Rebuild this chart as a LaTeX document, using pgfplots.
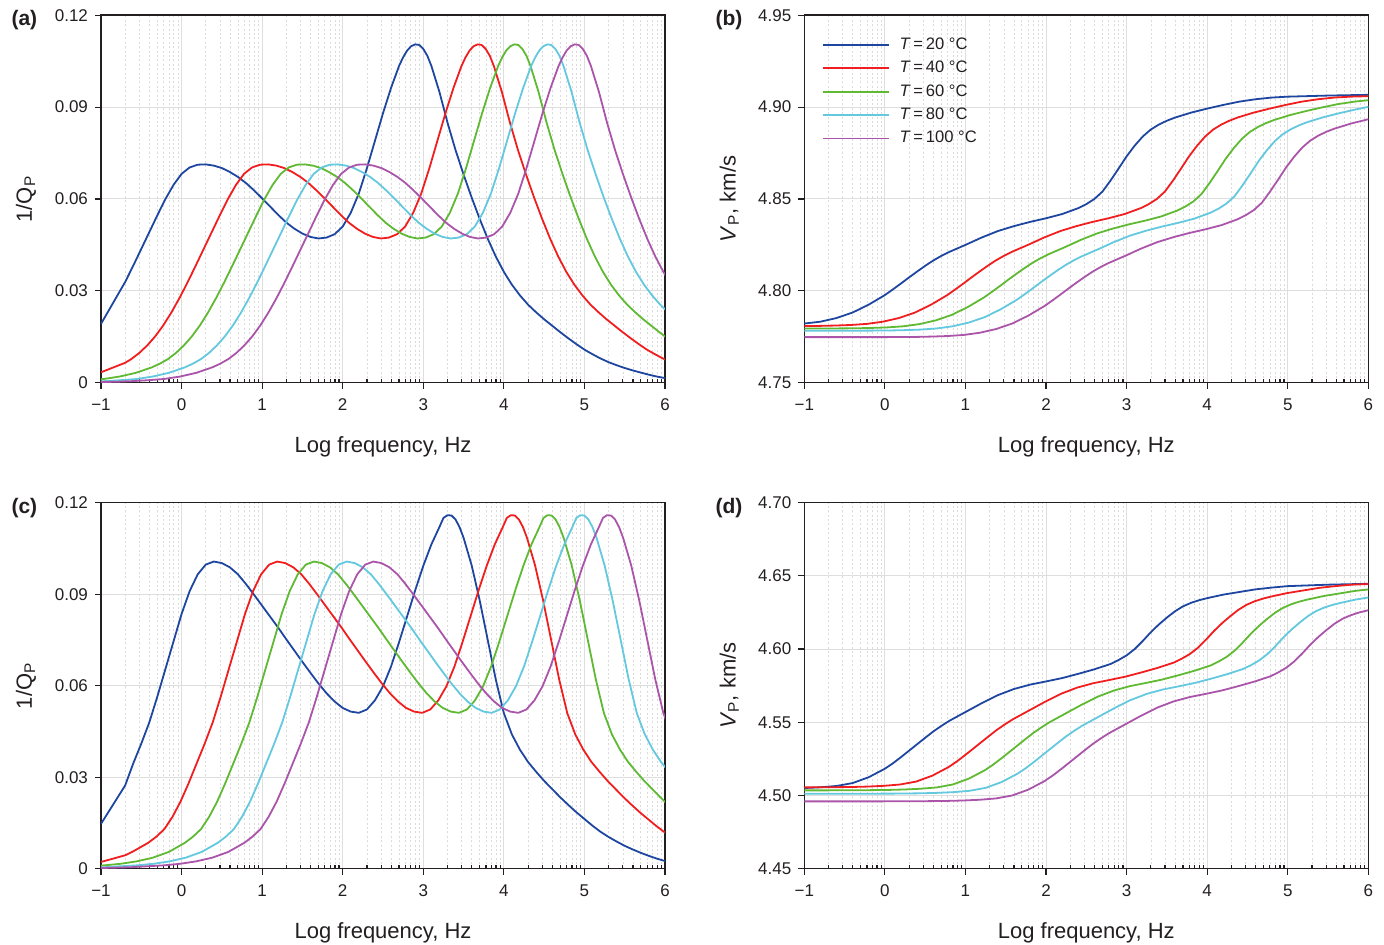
\documentclass[border=0pt]{standalone}
\usepackage{fontspec}
\setmainfont{Liberation Sans}
\usepackage{pgfplots}
\pgfplotsset{compat=1.18}
\definecolor{cB}{RGB}{30,70,160}
\definecolor{cR}{RGB}{240,30,30}
\definecolor{cG}{RGB}{95,185,50}
\definecolor{cC}{RGB}{100,200,222}
\definecolor{cP}{RGB}{170,85,170}
\definecolor{axc}{RGB}{35,31,32}
\pgfplotsset{
  panel/.style={
    scale only axis, width=282pt, anchor=south west,
    xmin=-1, xmax=6,
    xtick={-1,0,1,2,3,4,5,6}, xticklabels={−1,0,1,2,3,4,5,6},
    minor xtick={-0.69897,-0.52288,-0.39794,-0.30103,-0.22185,-0.15490,-0.09691,-0.04576,
      0.30103,0.47712,0.60206,0.69897,0.77815,0.84510,0.90309,0.95424,
      1.30103,1.47712,1.60206,1.69897,1.77815,1.84510,1.90309,1.95424,
      2.30103,2.47712,2.60206,2.69897,2.77815,2.84510,2.90309,2.95424,
      3.30103,3.47712,3.60206,3.69897,3.77815,3.84510,3.90309,3.95424,
      4.30103,4.47712,4.60206,4.69897,4.77815,4.84510,4.90309,4.95424,
      5.30103,5.47712,5.60206,5.69897,5.77815,5.84510,5.90309,5.95424},
    xmajorgrids, ymajorgrids, xminorgrids,
    major grid style={draw=black!13, line width=0.5pt},
    minor grid style={draw=black!14, line width=0.35pt, dash pattern=on 1pt off 1.2pt},
    axis line style={axc, line width=0.8pt},
    tick style={axc, line width=0.6pt},
    tick align=outside, tick pos=left,
    major tick length=3pt, minor tick length=1.6pt,
    minor tick style={yshift=1.6pt},
    ticklabel style={font=\fontsize{8.5}{10}\selectfont, text=axc},
    xticklabel style={yshift=-1.5pt},
    label style={font=\fontsize{11}{13}\selectfont, text=axc},
    xlabel={Log frequency, Hz},
    xlabel style={at={(axis description cs:0.5,-0.174)}, anchor=center},
    ylabel style={at={(axis description cs:-0.133,0.5)}, anchor=center},
    every axis plot/.append style={line width=0.9pt, line join=round},
  },
  qpan/.style={panel, ymin=0, ymax=0.12, ytick={0,0.03,0.06,0.09,0.12},
    yticklabels={0,0.03,0.06,0.09,0.12}, ylabel={1/Q\textsubscript{P}}},
}
\begin{document}
\begin{tikzpicture}
\useasboundingbox (0,0) rectangle (692pt,472.5pt);
% ---------------- (a)
\begin{axis}[qpan, name=A, at={(50.5pt,281.15pt)}, height=183.7pt]
\addplot[cB] coordinates {(-1,0.0192)(-0.7,0.0329)(-0.6,0.0382)(-0.5,0.0437)(-0.4,0.0492)(-0.3,0.0547)(-0.2,0.0600)(-0.1,0.0646)(0,0.0682)(0.1,0.0703)(0.2,0.0712)(0.3,0.0713)(0.4,0.0709)(0.5,0.0701)(0.6,0.0688)(0.7,0.0672)(0.8,0.0652)(0.9,0.0628)(1,0.0602)(1.1,0.0575)(1.2,0.0548)(1.3,0.0523)(1.4,0.0503)(1.5,0.0487)(1.6,0.0476)(1.7,0.0471)(1.8,0.0474)(1.9,0.0485)(2,0.0510)(2.1,0.0555)(2.2,0.0618)(2.3,0.0700)(2.4,0.0790)(2.5,0.0880)(2.6,0.0963)(2.7,0.1035)(2.75,0.1063)(2.8,0.1085)(2.85,0.1099)(2.9,0.1105)(2.95,0.1103)(3,0.1090)(3.05,0.1068)(3.1,0.1035)(3.2,0.0950)(3.3,0.0850)(3.4,0.0760)(3.5,0.0680)(3.6,0.0605)(3.7,0.0535)(3.8,0.0470)(3.9,0.0412)(4,0.0362)(4.1,0.0320)(4.2,0.0285)(4.3,0.0255)(4.4,0.0230)(4.5,0.0207)(4.6,0.0186)(4.7,0.0165)(4.8,0.0145)(4.9,0.0126)(5,0.0108)(5.1,0.0093)(5.2,0.0079)(5.3,0.0067)(5.4,0.0057)(5.5,0.0048)(5.6,0.0040)(5.7,0.0033)(5.8,0.0026)(5.9,0.0020)(6,0.0015)};
\addplot[cR] coordinates {(-1,0.0034)(-0.7,0.0065)(-0.625,0.0077)(-0.525,0.0097)(-0.425,0.0122)(-0.325,0.0152)(-0.225,0.0188)(-0.125,0.0230)(-0.025,0.0277)(0.075,0.0328)(0.175,0.0382)(0.275,0.0437)(0.375,0.0492)(0.475,0.0547)(0.575,0.0600)(0.675,0.0646)(0.775,0.0682)(0.875,0.0703)(0.975,0.0712)(1.075,0.0713)(1.175,0.0709)(1.275,0.0701)(1.375,0.0688)(1.475,0.0672)(1.575,0.0652)(1.675,0.0628)(1.775,0.0602)(1.875,0.0575)(1.975,0.0548)(2.075,0.0523)(2.175,0.0503)(2.275,0.0487)(2.375,0.0476)(2.475,0.0471)(2.575,0.0474)(2.675,0.0485)(2.775,0.0510)(2.875,0.0555)(2.975,0.0618)(3.075,0.0700)(3.175,0.0790)(3.275,0.0880)(3.375,0.0963)(3.475,0.1035)(3.525,0.1063)(3.575,0.1085)(3.625,0.1099)(3.675,0.1105)(3.725,0.1103)(3.775,0.1090)(3.825,0.1068)(3.875,0.1035)(3.975,0.0950)(4.075,0.0850)(4.175,0.0760)(4.275,0.0680)(4.375,0.0605)(4.475,0.0535)(4.575,0.0470)(4.675,0.0412)(4.775,0.0362)(4.875,0.0320)(4.975,0.0285)(5.075,0.0255)(5.175,0.0230)(5.275,0.0207)(5.375,0.0186)(5.475,0.0165)(5.575,0.0145)(5.675,0.0126)(5.775,0.0108)(5.875,0.0093)(5.975,0.0079)(6.075,0.0067)};
\addplot[cG] coordinates {(-1.17,0.0008)(-0.97,0.0012)(-0.77,0.0020)(-0.57,0.0032)(-0.37,0.0050)(-0.27,0.0062)(-0.17,0.0077)(-0.07,0.0097)(0.03,0.0122)(0.13,0.0152)(0.23,0.0188)(0.33,0.0230)(0.43,0.0277)(0.53,0.0328)(0.63,0.0382)(0.73,0.0437)(0.83,0.0492)(0.93,0.0547)(1.03,0.0600)(1.13,0.0646)(1.23,0.0682)(1.33,0.0703)(1.43,0.0712)(1.53,0.0713)(1.63,0.0709)(1.73,0.0701)(1.83,0.0688)(1.93,0.0672)(2.03,0.0652)(2.13,0.0628)(2.23,0.0602)(2.33,0.0575)(2.43,0.0548)(2.53,0.0523)(2.63,0.0503)(2.73,0.0487)(2.83,0.0476)(2.93,0.0471)(3.03,0.0474)(3.13,0.0485)(3.23,0.0510)(3.33,0.0555)(3.43,0.0618)(3.53,0.0700)(3.63,0.0790)(3.73,0.0880)(3.83,0.0963)(3.93,0.1035)(3.98,0.1063)(4.03,0.1085)(4.08,0.1099)(4.13,0.1105)(4.18,0.1103)(4.23,0.1090)(4.28,0.1068)(4.33,0.1035)(4.43,0.0950)(4.53,0.0850)(4.63,0.0760)(4.73,0.0680)(4.83,0.0605)(4.93,0.0535)(5.03,0.0470)(5.13,0.0412)(5.23,0.0362)(5.33,0.0320)(5.43,0.0285)(5.53,0.0255)(5.63,0.0230)(5.73,0.0207)(5.83,0.0186)(5.93,0.0165)(6.03,0.0145)};
\addplot[cC] coordinates {(-1.16,0.0003)(-0.96,0.0005)(-0.76,0.0008)(-0.56,0.0012)(-0.36,0.0020)(-0.16,0.0032)(0.04,0.0050)(0.14,0.0062)(0.24,0.0077)(0.34,0.0097)(0.44,0.0122)(0.54,0.0152)(0.64,0.0188)(0.74,0.0230)(0.84,0.0277)(0.94,0.0328)(1.04,0.0382)(1.14,0.0437)(1.24,0.0492)(1.34,0.0547)(1.44,0.0600)(1.54,0.0646)(1.64,0.0682)(1.74,0.0703)(1.84,0.0712)(1.94,0.0713)(2.04,0.0709)(2.14,0.0701)(2.24,0.0688)(2.34,0.0672)(2.44,0.0652)(2.54,0.0628)(2.64,0.0602)(2.74,0.0575)(2.84,0.0548)(2.94,0.0523)(3.04,0.0503)(3.14,0.0487)(3.24,0.0476)(3.34,0.0471)(3.44,0.0474)(3.54,0.0485)(3.64,0.0510)(3.74,0.0555)(3.84,0.0618)(3.94,0.0700)(4.04,0.0790)(4.14,0.0880)(4.24,0.0963)(4.34,0.1035)(4.39,0.1063)(4.44,0.1085)(4.49,0.1099)(4.54,0.1105)(4.59,0.1103)(4.64,0.1090)(4.69,0.1068)(4.74,0.1035)(4.84,0.0950)(4.94,0.0850)(5.04,0.0760)(5.14,0.0680)(5.24,0.0605)(5.34,0.0535)(5.44,0.0470)(5.54,0.0412)(5.64,0.0362)(5.74,0.0320)(5.84,0.0285)(5.94,0.0255)(6.04,0.0230)};
\addplot[cP] coordinates {(-1.02,0.0002)(-0.82,0.0003)(-0.62,0.0005)(-0.42,0.0008)(-0.22,0.0012)(-0.02,0.0020)(0.18,0.0032)(0.38,0.0050)(0.48,0.0062)(0.58,0.0077)(0.68,0.0097)(0.78,0.0122)(0.88,0.0152)(0.98,0.0188)(1.08,0.0230)(1.18,0.0277)(1.28,0.0328)(1.38,0.0382)(1.48,0.0437)(1.58,0.0492)(1.68,0.0547)(1.78,0.0600)(1.88,0.0646)(1.98,0.0682)(2.08,0.0703)(2.18,0.0712)(2.28,0.0713)(2.38,0.0709)(2.48,0.0701)(2.58,0.0688)(2.68,0.0672)(2.78,0.0652)(2.88,0.0628)(2.98,0.0602)(3.08,0.0575)(3.18,0.0548)(3.28,0.0523)(3.38,0.0503)(3.48,0.0487)(3.58,0.0476)(3.68,0.0471)(3.78,0.0474)(3.88,0.0485)(3.98,0.0510)(4.08,0.0555)(4.18,0.0618)(4.28,0.0700)(4.38,0.0790)(4.48,0.0880)(4.58,0.0963)(4.68,0.1035)(4.73,0.1063)(4.78,0.1085)(4.83,0.1099)(4.88,0.1105)(4.93,0.1103)(4.98,0.1090)(5.03,0.1068)(5.08,0.1035)(5.18,0.0950)(5.28,0.0850)(5.38,0.0760)(5.48,0.0680)(5.58,0.0605)(5.68,0.0535)(5.78,0.0470)(5.88,0.0412)(5.98,0.0362)(6.08,0.0320)};
\end{axis}
% ---------------- (b)
\begin{axis}[panel, name=B, at={(402.15pt,281.15pt)}, height=183.7pt,
  ymin=4.75, ymax=4.95, ytick={4.75,4.80,4.85,4.90,4.95},
  yticklabels={4.75,4.80,4.85,4.90,4.95},
  ylabel={\textit{V}\textsubscript{P}, km/s},
  legend style={at={(axis description cs:0,1)}, anchor=north west, xshift=8.5pt, yshift=-9.5pt,
    draw=none, fill=none, inner sep=0pt, row sep=1.4pt,
    font=\fontsize{8.3}{9.8}\selectfont, text=axc,
    nodes={inner sep=1.5pt},
    /tikz/every odd column/.append style={column sep=3.5pt}},
  legend cell align=left,
  legend image code/.code={\draw[#1] (0pt,0pt) -- (33pt,0pt);},
]
\addplot[cB] coordinates {(-1,4.7822)(-0.8,4.7832)(-0.6,4.7852)(-0.4,4.7882)(-0.2,4.7925)(0,4.7977)(0.1,4.8008)(0.2,4.8040)(0.3,4.8073)(0.4,4.8105)(0.5,4.8136)(0.6,4.8165)(0.7,4.8190)(0.8,4.8212)(1,4.8250)(1.2,4.8290)(1.4,4.8325)(1.6,4.8352)(1.8,4.8375)(2,4.8395)(2.2,4.8418)(2.4,4.8450)(2.5,4.8472)(2.6,4.8500)(2.7,4.8540)(2.8,4.8600)(2.9,4.8665)(3,4.8732)(3.1,4.8790)(3.2,4.8840)(3.3,4.8878)(3.4,4.8905)(3.5,4.8926)(3.6,4.8943)(3.8,4.8970)(4,4.8992)(4.2,4.9012)(4.4,4.9030)(4.6,4.9043)(4.8,4.9052)(5,4.9057)(5.5,4.9063)(6,4.9067)};
\addlegendentry{\textit{T}\,=\,20 °C}
\addplot[cR] coordinates {(-1.225,4.7808)(-0.825,4.7809)(-0.625,4.7811)(-0.425,4.7814)(-0.225,4.7820)(-0.025,4.7832)(0.175,4.7852)(0.375,4.7882)(0.575,4.7925)(0.775,4.7977)(0.875,4.8008)(0.975,4.8040)(1.075,4.8073)(1.175,4.8105)(1.275,4.8136)(1.375,4.8165)(1.475,4.8190)(1.575,4.8212)(1.775,4.8250)(1.975,4.8290)(2.175,4.8325)(2.375,4.8352)(2.575,4.8375)(2.775,4.8395)(2.975,4.8418)(3.175,4.8450)(3.275,4.8472)(3.375,4.8500)(3.475,4.8540)(3.575,4.8600)(3.675,4.8665)(3.775,4.8732)(3.875,4.8790)(3.975,4.8840)(4.075,4.8878)(4.175,4.8905)(4.275,4.8926)(4.375,4.8943)(4.575,4.8970)(4.775,4.8992)(4.975,4.9012)(5.175,4.9030)(5.375,4.9043)(5.575,4.9052)(5.775,4.9057)(6.275,4.9063)};
\addlegendentry{\textit{T}\,=\,40 °C}
\addplot[cG] coordinates {(-1.77,4.7795)(-0.77,4.7795)(-0.37,4.7796)(-0.17,4.7798)(0.03,4.7801)(0.23,4.7807)(0.43,4.7819)(0.63,4.7839)(0.83,4.7869)(1.03,4.7912)(1.23,4.7964)(1.33,4.7995)(1.43,4.8027)(1.53,4.8060)(1.63,4.8092)(1.73,4.8123)(1.83,4.8152)(1.93,4.8177)(2.03,4.8199)(2.23,4.8237)(2.43,4.8277)(2.63,4.8312)(2.83,4.8339)(3.03,4.8362)(3.23,4.8382)(3.43,4.8405)(3.63,4.8437)(3.73,4.8459)(3.83,4.8487)(3.93,4.8527)(4.03,4.8587)(4.13,4.8652)(4.23,4.8719)(4.33,4.8777)(4.43,4.8827)(4.53,4.8865)(4.63,4.8892)(4.73,4.8913)(4.83,4.8930)(5.03,4.8957)(5.23,4.8979)(5.43,4.8999)(5.63,4.9017)(5.83,4.9030)(6.03,4.9039)};
\addlegendentry{\textit{T}\,=\,60 °C}
\addplot[cC] coordinates {(-1.36,4.7783)(-0.36,4.7783)(0.04,4.7784)(0.24,4.7786)(0.44,4.7789)(0.64,4.7795)(0.84,4.7807)(1.04,4.7827)(1.24,4.7857)(1.44,4.7900)(1.64,4.7952)(1.74,4.7983)(1.84,4.8015)(1.94,4.8048)(2.04,4.8080)(2.14,4.8111)(2.24,4.8140)(2.34,4.8165)(2.44,4.8187)(2.64,4.8225)(2.84,4.8265)(3.04,4.8300)(3.24,4.8327)(3.44,4.8350)(3.64,4.8370)(3.84,4.8393)(4.04,4.8425)(4.14,4.8447)(4.24,4.8475)(4.34,4.8515)(4.44,4.8575)(4.54,4.8640)(4.64,4.8707)(4.74,4.8765)(4.84,4.8815)(4.94,4.8853)(5.04,4.8880)(5.14,4.8901)(5.24,4.8918)(5.44,4.8945)(5.64,4.8967)(5.84,4.8987)(6.04,4.9005)};
\addlegendentry{\textit{T}\,=\,80 °C}
\addplot[cP] coordinates {(-1.02,4.7748)(-0.02,4.7748)(0.38,4.7749)(0.58,4.7751)(0.78,4.7754)(0.98,4.7760)(1.18,4.7772)(1.38,4.7792)(1.58,4.7822)(1.78,4.7865)(1.98,4.7917)(2.08,4.7948)(2.18,4.7980)(2.28,4.8013)(2.38,4.8045)(2.48,4.8076)(2.58,4.8105)(2.68,4.8130)(2.78,4.8152)(2.98,4.8190)(3.18,4.8230)(3.38,4.8265)(3.58,4.8292)(3.78,4.8315)(3.98,4.8335)(4.18,4.8358)(4.38,4.8390)(4.48,4.8412)(4.58,4.8440)(4.68,4.8480)(4.78,4.8540)(4.88,4.8605)(4.98,4.8672)(5.08,4.8730)(5.18,4.8780)(5.28,4.8818)(5.38,4.8845)(5.48,4.8866)(5.58,4.8883)(5.78,4.8910)(5.98,4.8932)(6.18,4.8952)};
\addlegendentry{\textit{T}\,=\,100 °C}
\end{axis}
% ---------------- (c)
\begin{axis}[qpan, name=C, at={(50.5pt,38.15pt)}, height=183pt]
\addplot[cB] coordinates {(-1,0.0147)(-0.7,0.0273)(-0.6,0.0345)(-0.5,0.0410)(-0.4,0.0480)(-0.3,0.0565)(-0.2,0.0655)(-0.1,0.0745)(0,0.0835)(0.1,0.0910)(0.2,0.0965)(0.3,0.0997)(0.4,0.1007)(0.5,0.1002)(0.6,0.0988)(0.7,0.0965)(0.8,0.0933)(0.9,0.0898)(1,0.0862)(1.1,0.0826)(1.2,0.0790)(1.3,0.0752)(1.4,0.0715)(1.5,0.0678)(1.6,0.0642)(1.7,0.0607)(1.8,0.0575)(1.9,0.0548)(2,0.0527)(2.1,0.0515)(2.2,0.0511)(2.3,0.0522)(2.4,0.0552)(2.5,0.0598)(2.6,0.0663)(2.7,0.0743)(2.8,0.0828)(2.9,0.0913)(3,0.0993)(3.1,0.1063)(3.2,0.1120)(3.25,0.1150)(3.3,0.1159)(3.35,0.1158)(3.4,0.1145)(3.45,0.1120)(3.5,0.1085)(3.6,0.0995)(3.7,0.0880)(3.8,0.0750)(3.9,0.0620)(4,0.0510)(4.1,0.0440)(4.2,0.0390)(4.3,0.0350)(4.4,0.0318)(4.5,0.0288)(4.6,0.0261)(4.7,0.0234)(4.8,0.0209)(4.9,0.0185)(5,0.0163)(5.1,0.0141)(5.2,0.0121)(5.3,0.0104)(5.4,0.0089)(5.5,0.0075)(5.6,0.0063)(5.7,0.0052)(5.8,0.0042)(5.9,0.0033)(6,0.0025)};
\addplot[cR] coordinates {(-1,0.0022)(-0.7,0.0044)(-0.613,0.0055)(-0.413,0.0085)(-0.313,0.0105)(-0.213,0.0130)(-0.113,0.0170)(-0.013,0.0220)(0.087,0.0280)(0.187,0.0345)(0.287,0.0410)(0.387,0.0480)(0.487,0.0565)(0.587,0.0655)(0.687,0.0745)(0.787,0.0835)(0.887,0.0910)(0.987,0.0965)(1.087,0.0997)(1.187,0.1007)(1.287,0.1002)(1.387,0.0988)(1.487,0.0965)(1.587,0.0933)(1.687,0.0898)(1.787,0.0862)(1.887,0.0826)(1.987,0.0790)(2.087,0.0752)(2.187,0.0715)(2.287,0.0678)(2.387,0.0642)(2.487,0.0607)(2.587,0.0575)(2.687,0.0548)(2.787,0.0527)(2.887,0.0515)(2.987,0.0511)(3.087,0.0522)(3.187,0.0552)(3.287,0.0598)(3.387,0.0663)(3.487,0.0743)(3.587,0.0828)(3.687,0.0913)(3.787,0.0993)(3.887,0.1063)(3.987,0.1120)(4.037,0.1150)(4.087,0.1159)(4.137,0.1158)(4.187,0.1145)(4.237,0.1120)(4.287,0.1085)(4.387,0.0995)(4.487,0.0880)(4.587,0.0750)(4.687,0.0620)(4.787,0.0510)(4.887,0.0440)(4.987,0.0390)(5.087,0.0350)(5.187,0.0318)(5.287,0.0288)(5.387,0.0261)(5.487,0.0234)(5.587,0.0209)(5.687,0.0185)(5.787,0.0163)(5.887,0.0141)(5.987,0.0121)(6.087,0.0104)};
\addplot[cG] coordinates {(-1.358,0.0005)(-0.958,0.0011)(-0.758,0.0016)(-0.558,0.0024)(-0.358,0.0036)(-0.158,0.0055)(0.042,0.0085)(0.142,0.0105)(0.242,0.0130)(0.342,0.0170)(0.442,0.0220)(0.542,0.0280)(0.642,0.0345)(0.742,0.0410)(0.842,0.0480)(0.942,0.0565)(1.042,0.0655)(1.142,0.0745)(1.242,0.0835)(1.342,0.0910)(1.442,0.0965)(1.542,0.0997)(1.642,0.1007)(1.742,0.1002)(1.842,0.0988)(1.942,0.0965)(2.042,0.0933)(2.142,0.0898)(2.242,0.0862)(2.342,0.0826)(2.442,0.0790)(2.542,0.0752)(2.642,0.0715)(2.742,0.0678)(2.842,0.0642)(2.942,0.0607)(3.042,0.0575)(3.142,0.0548)(3.242,0.0527)(3.342,0.0515)(3.442,0.0511)(3.542,0.0522)(3.642,0.0552)(3.742,0.0598)(3.842,0.0663)(3.942,0.0743)(4.042,0.0828)(4.142,0.0913)(4.242,0.0993)(4.342,0.1063)(4.442,0.1120)(4.492,0.1150)(4.542,0.1159)(4.592,0.1158)(4.642,0.1145)(4.692,0.1120)(4.742,0.1085)(4.842,0.0995)(4.942,0.0880)(5.042,0.0750)(5.142,0.0620)(5.242,0.0510)(5.342,0.0440)(5.442,0.0390)(5.542,0.0350)(5.642,0.0318)(5.742,0.0288)(5.842,0.0261)(5.942,0.0234)(6.042,0.0209)};
\addplot[cC] coordinates {(-1.35,0.0002)(-0.95,0.0005)(-0.55,0.0011)(-0.35,0.0016)(-0.15,0.0024)(0.05,0.0036)(0.25,0.0055)(0.45,0.0085)(0.55,0.0105)(0.65,0.0130)(0.75,0.0170)(0.85,0.0220)(0.95,0.0280)(1.05,0.0345)(1.15,0.0410)(1.25,0.0480)(1.35,0.0565)(1.45,0.0655)(1.55,0.0745)(1.65,0.0835)(1.75,0.0910)(1.85,0.0965)(1.95,0.0997)(2.05,0.1007)(2.15,0.1002)(2.25,0.0988)(2.35,0.0965)(2.45,0.0933)(2.55,0.0898)(2.65,0.0862)(2.75,0.0826)(2.85,0.0790)(2.95,0.0752)(3.05,0.0715)(3.15,0.0678)(3.25,0.0642)(3.35,0.0607)(3.45,0.0575)(3.55,0.0548)(3.65,0.0527)(3.75,0.0515)(3.85,0.0511)(3.95,0.0522)(4.05,0.0552)(4.15,0.0598)(4.25,0.0663)(4.35,0.0743)(4.45,0.0828)(4.55,0.0913)(4.65,0.0993)(4.75,0.1063)(4.85,0.1120)(4.9,0.1150)(4.95,0.1159)(5,0.1158)(5.05,0.1145)(5.1,0.1120)(5.15,0.1085)(5.25,0.0995)(5.35,0.0880)(5.45,0.0750)(5.55,0.0620)(5.65,0.0510)(5.75,0.0440)(5.85,0.0390)(5.95,0.0350)(6.05,0.0318)};
\addplot[cP] coordinates {(-1.02,0.0002)(-0.62,0.0005)(-0.22,0.0011)(-0.02,0.0016)(0.18,0.0024)(0.38,0.0036)(0.58,0.0055)(0.78,0.0085)(0.88,0.0105)(0.98,0.0130)(1.08,0.0170)(1.18,0.0220)(1.28,0.0280)(1.38,0.0345)(1.48,0.0410)(1.58,0.0480)(1.68,0.0565)(1.78,0.0655)(1.88,0.0745)(1.98,0.0835)(2.08,0.0910)(2.18,0.0965)(2.28,0.0997)(2.38,0.1007)(2.48,0.1002)(2.58,0.0988)(2.68,0.0965)(2.78,0.0933)(2.88,0.0898)(2.98,0.0862)(3.08,0.0826)(3.18,0.0790)(3.28,0.0752)(3.38,0.0715)(3.48,0.0678)(3.58,0.0642)(3.68,0.0607)(3.78,0.0575)(3.88,0.0548)(3.98,0.0527)(4.08,0.0515)(4.18,0.0511)(4.28,0.0522)(4.38,0.0552)(4.48,0.0598)(4.58,0.0663)(4.68,0.0743)(4.78,0.0828)(4.88,0.0913)(4.98,0.0993)(5.08,0.1063)(5.18,0.1120)(5.23,0.1150)(5.28,0.1159)(5.33,0.1158)(5.38,0.1145)(5.43,0.1120)(5.48,0.1085)(5.58,0.0995)(5.68,0.0880)(5.78,0.0750)(5.88,0.0620)(5.98,0.0510)(6.08,0.0440)};
\end{axis}
% ---------------- (d)
\begin{axis}[panel, name=D, at={(402.15pt,38.15pt)}, height=183pt,
  ymin=4.45, ymax=4.70, ytick={4.45,4.50,4.55,4.60,4.65,4.70},
  yticklabels={4.45,4.50,4.55,4.60,4.65,4.70},
  ylabel={\textit{V}\textsubscript{P}, km/s}]
\addplot[cB] coordinates {(-1,4.5051)(-0.8,4.5056)(-0.6,4.5065)(-0.4,4.5085)(-0.2,4.5125)(0,4.5183)(0.1,4.5220)(0.2,4.5262)(0.3,4.5306)(0.4,4.5350)(0.5,4.5394)(0.6,4.5437)(0.7,4.5475)(0.8,4.5510)(1,4.5570)(1.2,4.5630)(1.4,4.5685)(1.6,4.5727)(1.8,4.5757)(2,4.5779)(2.2,4.5802)(2.4,4.5831)(2.6,4.5862)(2.8,4.5898)(2.9,4.5925)(3,4.5957)(3.1,4.6000)(3.2,4.6055)(3.3,4.6115)(3.4,4.6168)(3.5,4.6215)(3.6,4.6258)(3.7,4.6292)(3.8,4.6316)(3.9,4.6334)(4,4.6348)(4.2,4.6372)(4.4,4.6390)(4.6,4.6408)(4.8,4.6420)(5,4.6430)(5.5,4.6440)(6,4.6446)};
\addplot[cR] coordinates {(-1.213,4.5055)(-0.713,4.5056)(-0.413,4.5058)(-0.213,4.5061)(-0.013,4.5066)(0.187,4.5075)(0.387,4.5095)(0.587,4.5135)(0.787,4.5193)(0.887,4.5230)(0.987,4.5272)(1.087,4.5316)(1.187,4.5360)(1.287,4.5404)(1.387,4.5447)(1.487,4.5485)(1.587,4.5520)(1.787,4.5580)(1.987,4.5640)(2.187,4.5695)(2.387,4.5737)(2.587,4.5767)(2.787,4.5789)(2.987,4.5812)(3.187,4.5841)(3.387,4.5872)(3.587,4.5908)(3.687,4.5935)(3.787,4.5967)(3.887,4.6010)(3.987,4.6065)(4.087,4.6125)(4.187,4.6178)(4.287,4.6225)(4.387,4.6268)(4.487,4.6302)(4.587,4.6326)(4.687,4.6344)(4.787,4.6358)(4.987,4.6382)(5.187,4.6400)(5.387,4.6418)(5.587,4.6430)(5.787,4.6440)(6.287,4.6450)};
\addplot[cG] coordinates {(-1.758,4.5035)(-0.758,4.5035)(-0.258,4.5036)(0.042,4.5038)(0.242,4.5041)(0.442,4.5046)(0.642,4.5055)(0.842,4.5075)(1.042,4.5115)(1.242,4.5173)(1.342,4.5210)(1.442,4.5252)(1.542,4.5296)(1.642,4.5340)(1.742,4.5384)(1.842,4.5427)(1.942,4.5465)(2.042,4.5500)(2.242,4.5560)(2.442,4.5620)(2.642,4.5675)(2.842,4.5717)(3.042,4.5747)(3.242,4.5769)(3.442,4.5792)(3.642,4.5821)(3.842,4.5852)(4.042,4.5888)(4.142,4.5915)(4.242,4.5947)(4.342,4.5990)(4.442,4.6045)(4.542,4.6105)(4.642,4.6158)(4.742,4.6205)(4.842,4.6248)(4.942,4.6282)(5.042,4.6306)(5.142,4.6324)(5.242,4.6338)(5.442,4.6362)(5.642,4.6380)(5.842,4.6398)(6.042,4.6410)};
\addplot[cC] coordinates {(-1.35,4.5012)(-0.35,4.5012)(0.15,4.5013)(0.45,4.5015)(0.65,4.5018)(0.85,4.5023)(1.05,4.5032)(1.25,4.5052)(1.45,4.5092)(1.65,4.5150)(1.75,4.5187)(1.85,4.5229)(1.95,4.5273)(2.05,4.5317)(2.15,4.5361)(2.25,4.5404)(2.35,4.5442)(2.45,4.5477)(2.65,4.5537)(2.85,4.5597)(3.05,4.5652)(3.25,4.5694)(3.45,4.5724)(3.65,4.5746)(3.85,4.5769)(4.05,4.5798)(4.25,4.5829)(4.45,4.5865)(4.55,4.5892)(4.65,4.5924)(4.75,4.5967)(4.85,4.6022)(4.95,4.6082)(5.05,4.6135)(5.15,4.6182)(5.25,4.6225)(5.35,4.6259)(5.45,4.6283)(5.55,4.6301)(5.65,4.6315)(5.85,4.6339)(6.05,4.6357)};
\addplot[cP] coordinates {(-1.02,4.4960)(-0.02,4.4960)(0.48,4.4961)(0.78,4.4963)(0.98,4.4966)(1.18,4.4971)(1.38,4.4980)(1.58,4.5000)(1.78,4.5040)(1.98,4.5098)(2.08,4.5135)(2.18,4.5177)(2.28,4.5221)(2.38,4.5265)(2.48,4.5309)(2.58,4.5352)(2.68,4.5390)(2.78,4.5425)(2.98,4.5485)(3.18,4.5545)(3.38,4.5600)(3.58,4.5642)(3.78,4.5672)(3.98,4.5694)(4.18,4.5717)(4.38,4.5746)(4.58,4.5777)(4.78,4.5813)(4.88,4.5840)(4.98,4.5872)(5.08,4.5915)(5.18,4.5970)(5.28,4.6030)(5.38,4.6083)(5.48,4.6130)(5.58,4.6173)(5.68,4.6207)(5.78,4.6231)(5.88,4.6249)(5.98,4.6263)(6.18,4.6287)};
\end{axis}
\begin{scope}[every node/.style={font=\bfseries\fontsize{10.5}{12}\selectfont, text=axc}]
\node[xshift=-38.3pt, yshift=-2.6pt] at (A.north west) {(a)};
\node[xshift=-37.7pt, yshift=-2.6pt] at (B.north west) {(b)};
\node[xshift=-38.3pt, yshift=-2.6pt] at (C.north west) {(c)};
\node[xshift=-37.7pt, yshift=-2.6pt] at (D.north west) {(d)};
\end{scope}
\end{tikzpicture}
\end{document}
